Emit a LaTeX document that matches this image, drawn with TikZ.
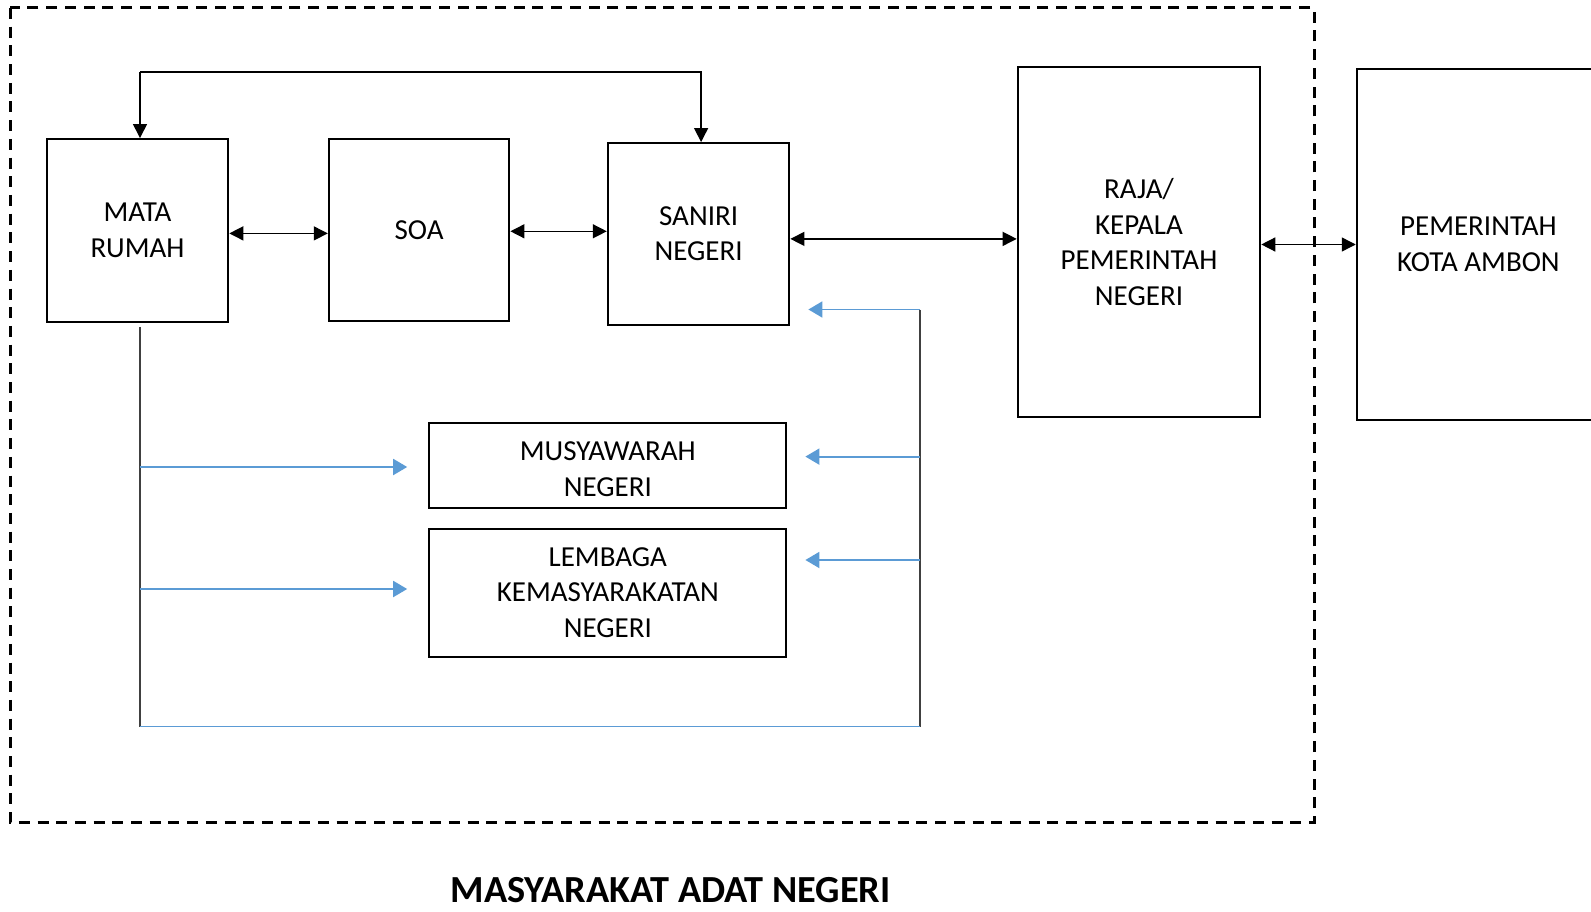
\documentclass[tikz,border=0pt]{standalone}
\usepackage{fontspec}
\setmainfont{Carlito}
\usetikzlibrary{positioning,arrows.meta}
\definecolor{ink}{HTML}{000000}
\definecolor{flow}{HTML}{5B9BD5}
\definecolor{rail}{HTML}{404040}

\tikzset{
  unit/.style={draw=ink,line width=2pt,inner sep=0pt,align=center,
    font=\fontsize{29}{35.5}\selectfont},
  link/.style={draw=ink,line width=1.4pt,{Triangle[length=14pt,width=14pt]}-{Triangle[length=14pt,width=14pt]}},
  down/.style={draw=ink,line width=1.4pt,-{Triangle[length=14pt,width=14pt]}},
  feed/.style={draw=flow,line width=1.9pt,-{Triangle[length=14pt,width=16pt]}},
  rail/.style={draw=rail,line width=1.9pt}
}

\begin{document}
\begin{tikzpicture}[x=1pt,y=-1pt]
  \useasboundingbox (0,0) rectangle (1591,912);
  % the adat community frame
  \draw[line width=3pt,dash pattern=on 11pt off 7.7pt] (10,8) rectangle (1314,822);

  \node[unit,minimum width=181.6pt,minimum height=182.7pt] (mata) at (137.5,230.4) {MATA\\RUMAH};
  \node[unit,minimum width=180.6pt,minimum height=181.6pt] (soa) at (419.1,229.8) {SOA};
  \node[unit,minimum width=181.6pt,minimum height=181.7pt] (saniri) at (698.6,233.9) {SANIRI\\NEGERI};
  \node[unit,minimum width=242.6pt,minimum height=350pt] (raja) at (1139,242) {RAJA/\\KEPALA\\PEMERINTAH\\NEGERI};
  \node[unit,minimum width=243.3pt,minimum height=351pt] (kota) at (1478.4,244.5) {PEMERINTAH\\KOTA AMBON};
  \node[unit,minimum width=357.2pt,minimum height=85.3pt] (musy) at (607.8,465.8) {\rule{0pt}{26pt}MUSYAWARAH\\NEGERI};
  \node[unit,minimum width=357.2pt,minimum height=127.8pt] (lembaga) at (607.8,592.6) {LEMBAGA\\KEMASYARAKATAN\\NEGERI};
  \node[font=\fontsize{38.3}{44}\selectfont\bfseries,inner sep=0pt,anchor=base] (judul) at (670.7,902) {MASYARAKAT ADAT NEGERI};

  % links between the units
  \draw[link] ([yshift=-3pt]mata.east) -- ([yshift=-3pt]mata.east -| soa.west);
  \draw[link] ([yshift=-1.5pt]soa.east) -- ([yshift=-1.5pt]soa.east -| saniri.west);
  \draw[link] ([yshift=-5pt]saniri.east) -- ([yshift=-5pt]saniri.east -| raja.west);
  \draw[link] ([yshift=-2.5pt]raja.east) -- ([yshift=-2.5pt]raja.east -| kota.west);
  \coordinate (atas) at (140,72);
  \draw[down] (atas) -- (atas |- mata.north);
  \draw[down] (atas) -| ([xshift=2.5pt]saniri.north);

  % feedback loop
  \coordinate (kiri) at (140,726.5);
  \coordinate (kanan) at (920.3,726.5);
  \draw[rail] ([yshift=-4pt]mata.south -| kiri) -- (kiri);
  \draw[rail] (kanan) -- (920.3,309.5);
  \draw[draw=flow,line width=1.9pt] (kiri) -- (kanan);
  \foreach \y/\to in {309.5/saniri,456.6/musy,560/lembaga}{
    \draw[feed,shorten >=18pt] (920.3,\y) -- (920.3,\y -| \to.east);}
  \foreach \y/\to in {467/musy,589/lembaga}{
    \draw[feed,shorten >=21pt] (140,\y) -- (140,\y -| \to.west);}
\end{tikzpicture}
\end{document}
